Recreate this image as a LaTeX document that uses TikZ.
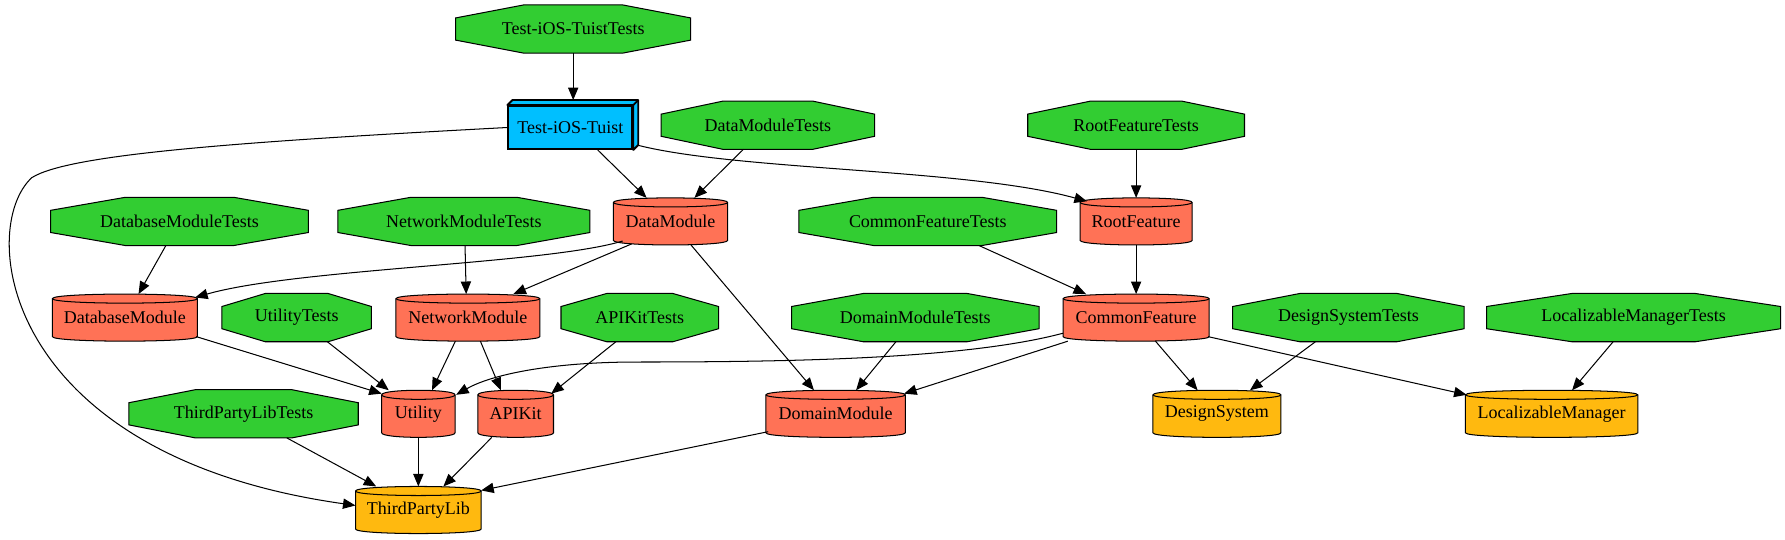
\documentclass[tikz,border=0pt]{standalone}
\usepackage{fontspec}
\setmainfont{Liberation Serif}
\usetikzlibrary{arrows.meta,calc}
\definecolor{testgreen}{HTML}{32CD32}
\definecolor{modred}{HTML}{FF7256}
\definecolor{libyellow}{HTML}{FFB90F}
\definecolor{appblue}{HTML}{00BFFF}
\pgfdeclarelayer{back}
\pgfsetlayers{back,main}
\tikzstyle{octa} = [rectangle, minimum height=42pt, inner sep=0pt, font=\fontsize{15.8}{18}\selectfont]
\tikzstyle{cyl} = [rectangle, minimum height=41pt, inner sep=0pt, font=\fontsize{15.8}{18}\selectfont]
\tikzstyle{box3d} = [rectangle, minimum width=109pt, minimum height=37.8pt, inner sep=0pt, fill=appblue, draw=black, line width=1.6pt, font=\fontsize{15.8}{18}\selectfont]
\tikzstyle{connect} = [line width=0.9pt, -{Triangle[length=11pt,width=9pt]}]

\begin{document}
\begin{tikzpicture}[x=1pt, y=-1pt, node distance=84.5pt]
		\useasboundingbox (0,0) rectangle (1568,473.6);
		\node (tuisttests) [octa, minimum width=206pt] at (503.5,25.5) {Test-iOS-TuistTests};
		\node (tuist) [box3d] at (501,112) {Test-iOS-Tuist};
		\node (dmtests) [octa, minimum width=187pt] at (674.5,110) {DataModuleTests};
		\node (rftests) [octa, minimum width=190pt] at (998,110) {RootFeatureTests};
		\node (dbtests) [octa, minimum width=226pt] at (157.7,194.5) {DatabaseModuleTests};
		\node (nettests) [octa, minimum width=221pt] at (407.5,194.5) {NetworkModuleTests};
		\node (datamod) [cyl, minimum width=100pt] at (589,194.5) {DataModule};
		\node (cftests) [octa, minimum width=226pt] at (815,194.5) {CommonFeatureTests};
		\node (rootfeat) [cyl, minimum width=98pt, below of=rftests] {RootFeature};
		\node (dbmod) [cyl, minimum width=127pt] at (109.7,279) {DatabaseModule};
		\node (utiltests) [octa, minimum width=131pt] at (260.6,279) {UtilityTests};
		\node (netmod) [cyl, minimum width=126pt] at (411,279) {NetworkModule};
		\node (apitests) [octa, minimum width=138pt] at (562,279) {APIKitTests};
		\node (domtests) [octa, minimum width=217pt] at (804,279) {DomainModuleTests};
		\node (commonfeat) [cyl, minimum width=128pt, below of=rootfeat] {CommonFeature};
		\node (dstests) [octa, minimum width=203pt] at (1184.5,279) {DesignSystemTests};
		\node (lmtests) [octa, minimum width=258pt] at (1435,279) {LocalizableManagerTests};
		\node (tplt) [octa, minimum width=201pt] at (214,363.5) {ThirdPartyLibTests};
		\node (utility) [cyl, minimum width=64pt] at (367.5,363.5) {Utility};
		\node (apikit) [cyl, minimum width=66pt] at (453,363.5) {APIKit};
		\node (dommod) [cyl, minimum width=122pt] at (734,363.5) {DomainModule};
		\node (designsys) [cyl, minimum width=112pt] at (1069,363.5) {DesignSystem};
		\node (locman) [cyl, minimum width=151pt] at (1363,363.5) {LocalizableManager};
		\node (thirdparty) [cyl, minimum width=110pt, below of=utility] {ThirdPartyLib};

		% shapes behind the labels
		\begin{pgfonlayer}{back}
		\foreach \n in {tuisttests,dmtests,rftests,dbtests,nettests,cftests,utiltests,apitests,domtests,dstests,lmtests,tplt}
			\draw [fill=testgreen, line width=0.9pt] ($(\n.north west)!0.29!(\n.north east)$) -- ($(\n.north west)!0.71!(\n.north east)$) -- ($(\n.north east)!0.27!(\n.south east)$) -- ($(\n.north east)!0.73!(\n.south east)$) -- ($(\n.south west)!0.71!(\n.south east)$) -- ($(\n.south west)!0.29!(\n.south east)$) -- ($(\n.north west)!0.73!(\n.south west)$) -- ($(\n.north west)!0.27!(\n.south west)$) -- cycle;
		\foreach \n/\c in {datamod/modred,rootfeat/modred,dbmod/modred,netmod/modred,commonfeat/modred,utility/modred,apikit/modred,dommod/modred,designsys/libyellow,locman/libyellow,thirdparty/libyellow} {
			\draw [fill=\c, line width=0.9pt] ([yshift=-4pt]\n.north west) -- ([yshift=4pt]\n.south west) .. controls ([yshift=-1.3pt]\n.south west) and ([yshift=-1.3pt]\n.south east) .. ([yshift=4pt]\n.south east) -- ([yshift=-4pt]\n.north east) .. controls ([yshift=1.3pt]\n.north east) and ([yshift=1.3pt]\n.north west) .. ([yshift=-4pt]\n.north west) -- cycle;
			\draw [line width=0.9pt] ([yshift=-4pt]\n.north west) .. controls ([yshift=-9.3pt]\n.north west) and ([yshift=-9.3pt]\n.north east) .. ([yshift=-4pt]\n.north east);
		}
		\end{pgfonlayer}
		\draw [fill=appblue, line width=1.6pt, line join=round] (tuist.north west) -- ++(4.4pt,4.4pt) -- ([shift={(4.4pt,4.4pt)}]tuist.north east) -- ([shift={(4.4pt,4.4pt)}]tuist.south east) -- (tuist.south east) -- (tuist.north east) -- cycle;
		\draw [line width=1.6pt] (tuist.north east) -- ++(4.4pt,4.4pt);

		\draw [connect] (tuisttests) -- ([xshift=2.5pt,yshift=4.4pt]tuist.north);
		\draw [connect] ([xshift=24pt]tuist.south) -- ([xshift=-21pt]datamod.north);
		\draw [connect] ([xshift=4.4pt,yshift=4pt]tuist.south east) .. controls (650,150) and (850,148) .. ([xshift=6pt,yshift=-3pt]rootfeat.north west);
		\draw [connect] (tuist.west) .. controls (200,125) and (60,136) .. (28,156) .. controls (-20,200) and (0,400) .. ([yshift=4pt]thirdparty.west);
		\draw [connect] ([xshift=-21.5pt]dmtests.south) -- ([xshift=21pt]datamod.north);
		\draw [connect] (rftests) -- (rootfeat);
		\draw [connect] ([xshift=-12pt]dbtests.south) -- ([xshift=12pt]dbmod.north);
		\draw [connect] ([xshift=1pt]nettests.south) -- ([xshift=-1.5pt]netmod.north);
		\draw [connect] ([xshift=-42pt,yshift=3.5pt]datamod.south) .. controls (480,232) and (260,236) .. ([xshift=-2pt,yshift=-3pt]dbmod.north east);
		\draw [connect] ([xshift=-34pt,yshift=1pt]datamod.south) -- ([xshift=40pt]netmod.north);
		\draw [connect] ([xshift=18pt]datamod.south) -- ([xshift=-19pt]dommod.north);
		\draw [connect] ([xshift=45pt]cftests.south) -- ([xshift=-44pt]commonfeat.north);
		\draw [connect] (rootfeat) -- (commonfeat);
		\draw [connect] ([xshift=-1pt,yshift=4pt]dbmod.south east) -- ([yshift=-3pt]utility.north west);
		\draw [connect] ([xshift=27pt]utiltests.south) -- ([xshift=-26pt]utility.north);
		\draw [connect] ([xshift=-11pt]netmod.south) -- ([xshift=12pt]utility.north);
		\draw [connect] ([xshift=11pt]netmod.south) -- ([xshift=-13pt]apikit.north);
		\draw [connect] ([xshift=-21pt]apitests.south) -- ([xshift=-2pt,yshift=-3pt]apikit.north east);
		\draw [connect] ([xshift=-17pt]domtests.south) -- ([xshift=18pt]dommod.north);
		\draw [connect] ([yshift=7pt]commonfeat.south west) .. controls (850,315) and (700,318) .. (560,318) .. controls (480,318) and (430,330) .. ([xshift=1pt,yshift=-4pt]utility.north east);
		\draw [connect] ([xshift=-60pt]commonfeat.south) -- ([xshift=-1pt,yshift=-3pt]dommod.north east);
		\draw [connect] ([xshift=17pt]commonfeat.south) -- ([xshift=-17pt]designsys.north);
		\draw [connect] ([xshift=-1pt,yshift=4pt]commonfeat.south east) -- ([xshift=1pt,yshift=-4pt]locman.north west);
		\draw [connect] ([xshift=-29pt]dstests.south) -- ([xshift=29pt]designsys.north);
		\draw [connect] ([xshift=-18pt]lmtests.south) -- ([xshift=18pt]locman.north);
		\draw [connect] ([xshift=38pt]tplt.south) -- ([xshift=-37pt]thirdparty.north);
		\draw [connect] (utility) -- (thirdparty);
		\draw [connect] ([xshift=-21pt]apikit.south) -- ([xshift=22pt]thirdparty.north);
		\draw [connect] ([xshift=2pt,yshift=5pt]dommod.south west) -- ([yshift=-3.5pt]thirdparty.north east);
\end{tikzpicture}
\end{document}
